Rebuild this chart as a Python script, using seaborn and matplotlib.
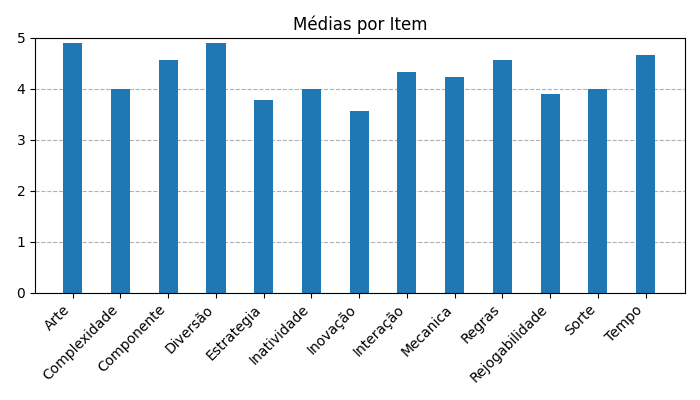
import matplotlib
matplotlib.use("Agg")
import matplotlib.pyplot as plt
import seaborn as sns
import pandas as pd

categories = ["Arte", "Complexidade", "Componente", "Diversão", "Estrategia", "Inatividade",
              "Inovação", "Interação", "Mecanica", "Regras", "Rejogabilidade", "Sorte", "Tempo"]
values = [4.9, 4.0, 4.57, 4.9, 3.79, 4.0, 3.57, 4.33, 4.24, 4.57, 3.91, 4.0, 4.67]

df = pd.DataFrame({"item": categories, "media": values})

fig, ax = plt.subplots(figsize=(7, 4), dpi=100)
sns.barplot(data=df, x="item", y="media", color="#1f77b4", saturation=1, width=0.4, ax=ax)
ax.set_xlim(-0.79, 12.83)
ax.set_ylim(0, 5)
ax.set_title("Médias por Item")
ax.set_xlabel("")
ax.set_ylabel("")
ax.grid(axis="y", linestyle="--", color="#b0b0b0", alpha=1.0)
ax.set_axisbelow(True)
plt.setp(ax.get_xticklabels(), rotation=45, ha="right")
fig.subplots_adjust(left=0.05, right=0.979, top=0.905, bottom=0.268)
fig.savefig("out.png")
